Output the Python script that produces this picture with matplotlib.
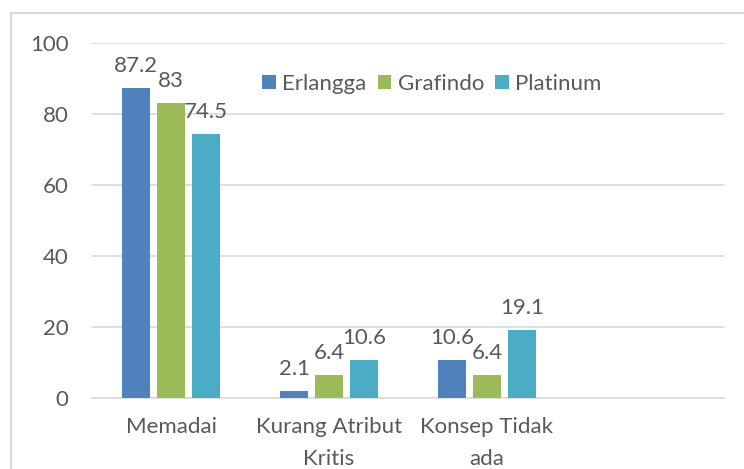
import matplotlib
matplotlib.use("Agg")
import matplotlib.pyplot as plt
import numpy as np

plt.rcParams['font.family'] = ['Lato', 'DejaVu Sans']

categories = ["Memadai", "Kurang Atribut\nKritis", "Konsep Tidak\nada", ""]
series_names = ["Erlangga", "Grafindo", "Platinum"]
erlangga = [87.2, 2.1, 10.6, None]
grafindo = [83, 6.4, 6.4, None]
platinum = [74.5, 10.6, 19.1, None]
yticks = [0, 20, 40, 60, 80, 100]

colors = ["#4F81BD", "#9BBB59", "#4BACC6"]
text_color = "#595959"
grid_color = "#D9D9D9"
fs = 16

fig = plt.figure(figsize=(7.44, 4.69), dpi=100)
ax = fig.add_axes([92/744, 1-398/469, 632/744, 355/469])

x = np.arange(len(categories))
width = 0.177
step = 0.2215
for i, (name, vals, c) in enumerate(zip(series_names, [erlangga, grafindo, platinum], colors)):
    xs = [xi + (i-1)*step for xi, v in zip(x, vals) if v is not None]
    vs = [v for v in vals if v is not None]
    bars = ax.bar(xs, vs, width=width, color=c, label=name, zorder=3)
    for b, v in zip(bars, vs):
        ax.annotate(f"{v:g}", (b.get_x()+b.get_width()/2, v), xytext=(0, 22),
                    textcoords="offset pixels", ha="center", va="center",
                    fontsize=fs, color=text_color)

ax.set_xlim(-0.5, len(categories)-0.5)
ax.set_ylim(0, 100)
ax.set_yticks(yticks)
ax.set_xticks(x)
ax.set_xticklabels(categories)
ax.tick_params(axis='both', length=0, labelsize=fs, colors=text_color)
ax.tick_params(axis='y', pad=17)
ax.tick_params(axis='x', pad=14)
ax.yaxis.grid(True, color=grid_color, linewidth=1.2, zorder=0)
for s in ["top", "right", "left"]:
    ax.spines[s].set_visible(False)
ax.spines["bottom"].set_color(grid_color)
ax.spines["bottom"].set_linewidth(1.2)
for t in ax.get_xticklabels():
    t.set_linespacing(1.75)

leg = ax.legend(loc="center", bbox_to_anchor=((432-92)/632, (398-84)/355), ncol=3,
                frameon=False, fontsize=fs, handlelength=0.6, handleheight=0.6,
                handletextpad=0.3, columnspacing=0.5, labelcolor=text_color)

fig.patches.append(plt.Rectangle((11/744, -0.05), 1.0, 1-13/469+0.05, transform=fig.transFigure,
                                 fill=False, edgecolor="#D9D9D9", linewidth=1.5))

fig.savefig("out.png", dpi=100)
